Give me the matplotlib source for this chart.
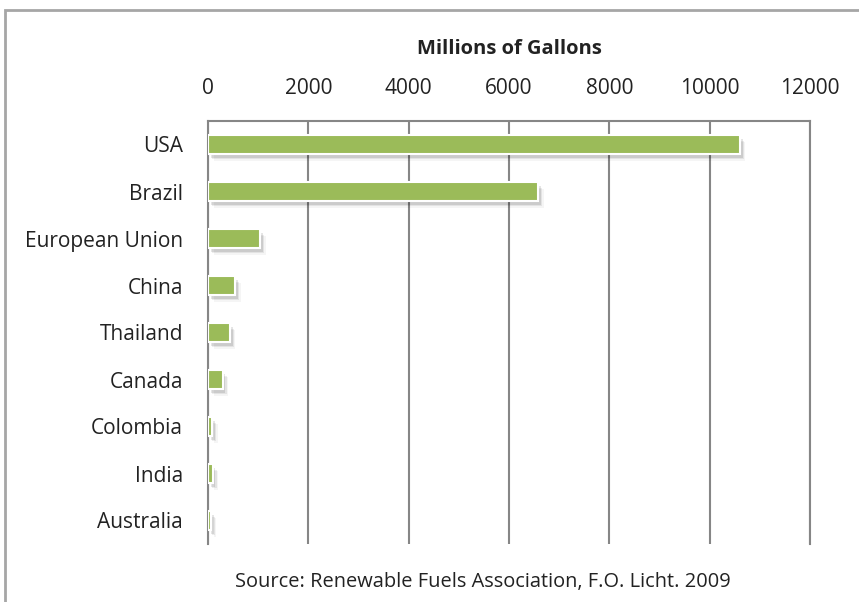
import matplotlib
matplotlib.use('Agg')
import matplotlib.pyplot as plt
import matplotlib.patheffects as pe
from matplotlib.patches import Rectangle

countries = ['USA', 'Brazil', 'European Union', 'China', 'Thailand',
             'Canada', 'Colombia', 'India', 'Australia']
gallons = [10600, 6578, 1040, 542, 435, 291, 83, 92, 57]
xticks = [0, 2000, 4000, 6000, 8000, 10000, 12000]

plt.rcParams['font.family'] = ['Open Sans', 'DejaVu Sans']

W, H = 859, 602
fig = plt.figure(figsize=(W / 100, H / 100), dpi=100)
fig.patch.set_facecolor('white')

# outer chart border (runs off the right and bottom edges)
fig.patches.append(Rectangle((5 / W, -0.05), 1.1, 1.05 - 10 / H,
                             transform=fig.transFigure, fill=False,
                             edgecolor='#a6a6a6', linewidth=2))

ax = fig.add_axes([208 / W, 58 / H, 602 / W, 423 / H])

shadow = [pe.SimplePatchShadow(offset=(o, -o - 1), shadow_rgbFace='#000000',
                               alpha=a)
          for o, a in [(4, 0.04), (3, 0.07), (2, 0.10)]] + [pe.Normal()]

y = list(range(len(countries)))
ax.barh(y, gallons, height=0.4, color='#9bbb59', edgecolor='white',
        linewidth=1.5, zorder=3, path_effects=shadow)

ax.set_ylim(len(countries) - 0.5, -0.5)
ax.set_xlim(0, 12000)
ax.set_xticks(xticks)
ax.set_xticklabels([str(t) for t in xticks])
ax.xaxis.tick_top()
ax.xaxis.set_label_position('top')
ax.set_xlabel('Millions of Gallons', fontsize=14.5, fontweight='bold',
              color='#222222', labelpad=17)
ax.set_yticks(y)
ax.set_yticklabels(countries)
ax.tick_params(axis='x', length=0, pad=16, labelsize=15, labelcolor='#222222')
ax.tick_params(axis='y', length=0, pad=18, labelsize=15, labelcolor='#222222')

ax.grid(axis='x', color='#868686', linewidth=1.5, zorder=0)
ax.grid(axis='y', visible=False)
for side in ['top', 'left', 'right']:
    ax.spines[side].set_color('#868686')
    ax.spines[side].set_linewidth(1.5)
ax.spines['bottom'].set_visible(False)

fig.text(483 / W, 1 - 582 / H,
         'Source: Renewable Fuels Association, F.O. Licht. 2009',
         ha='center', va='center', fontsize=14.4, color='#222222')

fig.savefig('out.png', dpi=100)
